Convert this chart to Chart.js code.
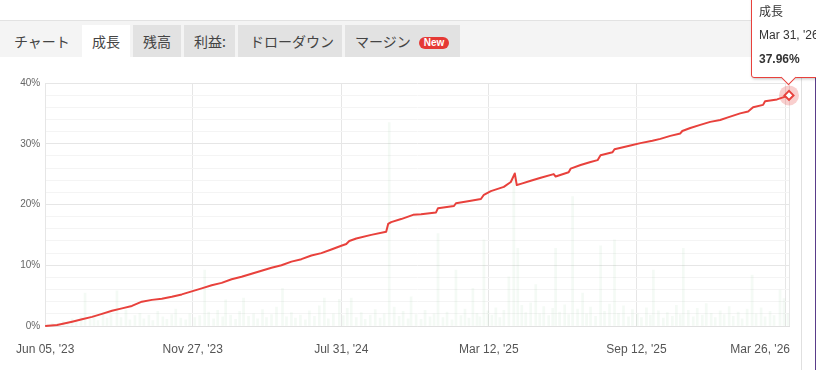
<!DOCTYPE html>
<html>
<head>
<meta charset="utf-8">
<script src="https://cdn.jsdelivr.net/npm/chart.js@4"></script>
<style>
html,body{margin:0;padding:0;width:816px;height:370px;overflow:hidden;background:#fff;font-family:"Liberation Sans",Arial,sans-serif;}
#topline{position:absolute;left:0;top:20px;width:816px;height:1px;background:#e2e2e2;}
#tabbar{position:absolute;left:0;top:21px;width:816px;height:36px;background:#f4f4f4;}
.tab{position:absolute;top:25px;height:32px;line-height:32px;font-family:"Noto Sans CJK JP","Noto Sans",sans-serif;font-size:14px;color:#444;background:#e2e2e2;box-sizing:border-box;padding-left:10px;white-space:nowrap;}
.tab.plain{background:transparent;}
.tab.active{background:#fff;}
.badge{display:inline-block;margin-left:8px;background:#e53935;color:#fff;font-family:"Liberation Sans",Arial,sans-serif;font-weight:bold;font-size:10px;line-height:12px;height:12px;padding:0 5px;border-radius:6px;vertical-align:1px;}
#wrap{position:absolute;left:0;top:60px;width:816px;height:310px;}
#vline1{position:absolute;left:801px;top:57px;width:1px;height:313px;background:#e0e0e0;}
#vline2{position:absolute;left:815px;top:57px;width:1px;height:313px;background:#5a3d8a;}
#tip{position:absolute;display:none;box-sizing:border-box;width:74px;height:88px;background:#fff;border:1px solid #e8413c;border-radius:3px;box-shadow:1px 1px 3px rgba(0,0,0,0.25);padding:8px 0 0 7px;font-family:"Liberation Sans",Arial,sans-serif;font-size:12px;color:#333;white-space:nowrap;z-index:5;}
#tip .ln{height:24px;line-height:24px;}
#tip .ln.b{font-weight:bold;}
#tip .caret{position:absolute;width:10px;height:10px;background:#fff;border-right:1px solid #e8413c;border-bottom:1px solid #e8413c;transform:rotate(45deg);left:31px;bottom:-6px;}
.tl{font-family:"Noto Sans CJK JP","Liberation Sans",sans-serif;}
</style>
</head>
<body>
<div id="topline"></div>
<div id="tabbar"></div>
<div class="tab plain" style="left:4px;width:76px;">チャート</div>
<div class="tab active" style="left:82px;width:48px;">成長</div>
<div class="tab" style="left:133px;width:48px;">残高</div>
<div class="tab" style="left:184px;width:51px;">利益:</div>
<div class="tab" style="left:238px;width:104px;padding-left:12px;">ドローダウン</div>
<div class="tab" style="left:345px;width:115px;">マージン<span class="badge">New</span></div>
<div id="vline1"></div>
<div id="vline2"></div>
<div id="wrap"><canvas id="c"></canvas></div>
<div id="tip"></div>
<script>
// ---- data ----
const seriesName = '成長';
const hoverDate = "Mar 31, '26";
const days = [0,12,27,37,47,57,67,77,87,97,107,117,127,137,147,157,167,177,187,197,207,217,227,237,247,257,267,277,287,297,302,305,312,327,342,344,347,357,369,377,392,394,410,412,427,437,440,447,460,467,471,473,477,487,497,510,512,525,527,537,547,554,557,569,571,587,597,609,617,627,637,639,647,657,667,677,684,697,705,710,720,722,734,746];
const growth = [0,0.15,0.7,1.1,1.5,2.0,2.5,2.9,3.3,4.0,4.3,4.5,4.8,5.2,5.7,6.2,6.7,7.1,7.7,8.1,8.6,9.1,9.6,10.0,10.6,11.0,11.6,12.0,12.6,13.2,13.5,14.0,14.4,15.0,15.5,16.8,17.1,17.6,18.3,18.4,18.7,19.4,19.75,20.2,20.6,20.9,21.6,22.2,22.9,23.7,25.1,23.2,23.4,23.9,24.4,25.0,24.6,25.3,25.9,26.5,27.0,27.3,28.1,28.6,29.1,29.7,30.1,30.5,30.8,31.3,31.7,32.1,32.6,33.1,33.6,33.9,34.3,35.0,35.3,36.0,36.4,37.0,37.3,37.96];
const barDays = [3,7,12,18,22,27,31,36,40,45,
  49,53,58,62,66,72,76,81,85,90,
  95,99,104,108,113,118,122,127,131,136,
  141,145,150,155,160,164,169,173,178,181,
  186,191,195,199,204,209,213,218,222,227,
  232,238,242,247,251,256,261,265,270,275,
  280,284,289,295,299,303,307,312,317,321,
  326,331,336,340,345,350,355,359,364,367,
  372,377,381,386,390,394,399,403,408,412,
  417,421,425,429,433,436,440,444,448,452,
  456,460,465,470,474,478,482,487,492,496,
  500,505,509,512,516,521,525,529,534,539,
  543,547,552,557,561,566,571,575,580,585,
  589,594,598,603,607,610,615,620,624,629,
  633,637,640,645,650,654,659,663,668,672,
  677,681,686,690,695,699,704,709,713,718,
  722,727,731,737,741,745];
const barVals = [0.3,0.5,0.4,0.8,0.6,1.2,0.7,1.5,5.4,1.1,
  1.8,0.9,2.2,1.3,1.9,5.8,1.4,2.6,1.0,1.7,
  2.1,1.2,1.8,0.9,2.4,1.5,1.1,1.9,2.8,1.3,
  1.0,2.0,1.4,1.7,9.2,2.3,1.2,2.6,1.5,4.3,
  1.8,1.1,2.4,4.6,1.6,2.0,1.2,2.7,1.4,1.9,
  3.1,6.2,1.5,2.2,1.3,1.8,1.0,2.5,1.6,3.3,
  4.6,1.2,2.0,4.4,1.7,2.9,4.6,1.4,2.2,1.1,
  1.8,2.7,1.3,2.0,33.5,3.1,1.6,2.4,1.2,4.8,
  1.9,1.1,2.6,1.5,2.0,15.2,1.4,2.3,1.0,9.2,
  1.7,2.8,1.3,6.2,2.1,1.5,14.2,2.5,1.8,3.0,
  1.4,2.6,8.1,24.5,12.8,3.4,2.2,3.8,6.8,2.0,
  3.2,1.7,2.9,12.8,2.3,3.5,1.9,21.3,2.8,5.4,
  2.0,3.1,1.6,13.2,2.4,3.6,14.2,2.1,3.3,1.5,
  2.7,2.0,1.4,3.0,1.8,9.2,2.5,1.3,2.2,1.6,
  3.4,1.9,12.8,2.6,1.5,2.9,1.8,3.7,2.1,1.4,
  2.5,1.9,3.2,1.6,2.3,1.2,2.8,8.4,2.0,3.0,
  1.5,2.4,1.7,5.9,4.5,2.0];
const tickDays = [0,148,297,445,593,742];
const tickLabels = ["Jun 05, '23","Nov 27, '23","Jul 31, '24","Mar 12, '25","Sep 12, '25","Mar 26, '26"];
const yMax = 40;

// ---- chart ----
Chart.defaults.font.family = '"Liberation Sans", Arial, sans-serif';
const RED = '#e8413c';
const last = growth.length - 1;
const lineData = days.map((d, i) => ({x: d, y: growth[i]}));
const barData = barDays.map((d, i) => ({x: d, y: barVals[i]}));

function externalTooltip(context) {
  const {chart, tooltip} = context;
  const el = document.getElementById('tip');
  if (tooltip.opacity === 0) { el.style.display = 'none'; return; }
  const title = tooltip.title || [];
  const body = [].concat(...tooltip.body.map(b => b.lines));
  el.innerHTML = title.map((t, i) => '<div class="ln' + (i === 0 ? ' tl' : '') + '">' + t + '</div>').join('') +
    body.map(b => '<div class="ln b">' + b + '</div>').join('') + '<div class="caret"></div>';
  const r = chart.canvas.getBoundingClientRect();
  const px = r.left + tooltip.caretX;
  const py = r.top + tooltip.caretY;
  el.style.display = 'block';
  el.style.left = (px - 38) + 'px';
  el.style.top = (py - 17 - 88) + 'px';
}

const labelFix = {
  id: 'labelFix',
  beforeDraw(chart) {
    const sc = chart.scales.x;
    if (!sc || !sc.getLabelItems) return;
    const items = sc.getLabelItems();
    items.forEach(it => {
      const lbl = Array.isArray(it.label) ? it.label[0] : it.label;
      if (lbl === tickLabels[tickLabels.length - 1] && it.options && it.options.translation) {
        it.options.textAlign = 'right';
        it.options.translation[0] = chart.chartArea.right + 1;
      }
    });
  }
};

const chart = new Chart(document.getElementById('c'), {
  type: 'line',
  data: {
    datasets: [
      {
        label: seriesName,
        data: lineData,
        clip: false,
        borderColor: RED,
        borderWidth: 2,
        borderJoinStyle: 'round',
        tension: 0,
        fill: false,
        pointStyle: 'rectRot',
        pointRadius: ctx => ctx.dataIndex === last ? 4.5 : 0,
        pointHoverRadius: ctx => ctx.dataIndex === last ? 4.5 : 0,
        pointBackgroundColor: '#fff',
        pointHoverBackgroundColor: '#fff',
        pointBorderColor: RED,
        pointHoverBorderColor: RED,
        pointBorderWidth: 2,
        pointHoverBorderWidth: 2,
        order: 0
      },
      {
        label: 'halo',
        data: [{x: days[last], y: growth[last]}],
        clip: false,
        showLine: false,
        pointRadius: 10,
        pointHoverRadius: 10,
        pointBackgroundColor: 'rgba(232,65,60,0.25)',
        pointHoverBackgroundColor: 'rgba(232,65,60,0.25)',
        pointBorderWidth: 0,
        pointHoverBorderWidth: 0,
        order: 1
      },
      {
        type: 'bar',
        label: 'bars',
        data: barData,
        backgroundColor: 'rgba(130,200,145,0.09)',
        borderWidth: 0,
        barThickness: 2,
        grouped: false,
        order: 2
      }
    ]
  },
  options: {
    responsive: true,
    maintainAspectRatio: false,
    animation: false,
    events: [],
    layout: {padding: {top: 23, right: 27, left: 0, bottom: 0}},
    plugins: {
      legend: {display: false},
      tooltip: {
        enabled: false,
        external: externalTooltip,
        callbacks: {
          title: () => [seriesName, hoverDate],
          label: (item) => item.parsed.y.toFixed(2) + '%'
        }
      }
    },
    scales: {
      x: {
        type: 'linear',
        offset: false,
        min: 0,
        max: days[last],
        afterBuildTicks: (scale) => {
          scale.ticks = tickDays.map(v => ({value: v})).concat([{value: days[last]}]);
        },
        afterFit: (scale) => { scale.height = 44; },
        ticks: {
          autoSkip: false,
          maxRotation: 0,
          padding: 16,
          color: '#555',
          font: {size: 12},
          callback: (v) => { const i = tickDays.indexOf(v); return i >= 0 ? tickLabels[i] : ''; }
        },
        grid: {color: '#e6e6e6', drawTicks: false, lineWidth: 1, offset: false},
        border: {color: '#e0e0e0'}
      },
      y: {
        min: 0,
        max: yMax,
        afterFit: (scale) => { scale.width = 43; },
        ticks: {
          stepSize: 2,
          autoSkip: false,
          padding: 5,
          color: '#666',
          font: {size: 10},
          callback: (v) => (v % 10 === 0 ? v + '%' : '')
        },
        grid: {
          drawTicks: false,
          color: (ctx) => (ctx.tick && ctx.tick.value % 10 === 0 ? '#e6e6e6' : '#f4f4f4')
        },
        border: {color: '#e6e6e6'}
      }
    }
  },
  plugins: [labelFix]
});

chart.setActiveElements([{datasetIndex: 0, index: last}]);
chart.tooltip.setActiveElements([{datasetIndex: 0, index: last}], {x: 0, y: 0});
chart.update('none');
</script>
</body>
</html>
